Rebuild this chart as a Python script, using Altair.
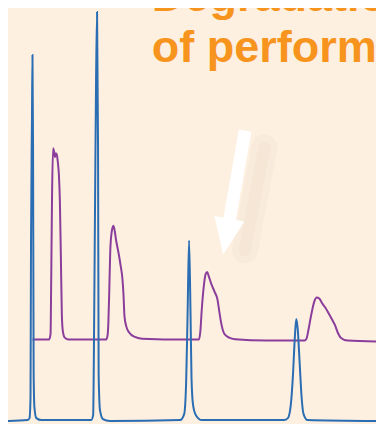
import altair as alt
import pandas as pd

# Retention time (min) and detector signal (mAU)
blue_time = [0.0, 2.0, 2.2, 2.3, 2.35, 2.45, 2.5, 2.56, 2.62, 2.7, 2.9, 3.4,
             8.5, 8.7, 8.8, 8.9, 9.0, 9.1, 9.2, 9.26, 9.4, 9.7, 10.4,
             17.6, 18.0, 18.2, 18.35, 18.5, 18.65, 18.75, 18.9, 19.2, 19.8,
             28.2, 28.6, 28.9, 29.1, 29.3, 29.45, 29.6, 29.8, 30.0, 30.2, 30.6, 37.6]
blue_signal = [0.75, 1.0, 1.5, 6.75, 45.5, 78, 94, 70.5, 13, 4.25, 1.5, 1.0,
               1.0, 2.25, 25.5, 58, 88, 105, 70.5, 13, 3.5, 1.25, 0.75,
               1.0, 2.5, 10.5, 28, 46.75, 28, 11.75, 5, 2.25, 1.0,
               1.0, 1.5, 5, 11.75, 21.75, 26.75, 24.25, 15.5, 6.75, 2.5, 1.0, 0.75]

purple_time = [2.5, 4.2, 4.35, 4.4, 4.5, 4.6, 4.7, 4.8, 4.9, 5.0, 5.1, 5.2, 5.3, 5.4, 5.5, 5.6, 5.8, 6.2,
               10.0, 10.15, 10.25, 10.35, 10.45, 10.6, 10.77, 10.9, 11.05, 11.3, 11.5, 11.7, 11.8, 11.9,
               12.1, 12.4, 12.9, 13.7, 18.2,
               19.5, 19.65, 19.8, 20.0, 20.2, 20.35, 20.5, 20.8, 21.1, 21.4, 21.6, 21.8, 22.1, 22.6, 23.2,
               26.4, 30.3, 30.5, 30.7, 30.9, 31.1, 31.3, 31.55, 31.8, 32.1, 32.4, 32.7, 33.07, 33.4, 33.7,
               34.0, 34.7, 37.6]
purple_signal = [21.5, 21.5, 23, 33, 58, 70.25, 69.5, 68, 69, 68.5, 66.5, 63.5, 56.75, 43, 28, 23.75, 22, 21.5,
                 21.5, 22.25, 25.5, 34.25, 44.25, 49, 50.5, 49.25, 46.75, 43.5, 40.5, 36.75, 33, 27.5,
                 24.75, 23.25, 22.25, 21.75, 21.5,
                 21.5, 23.5, 29.25, 35, 38.25, 38.75, 37.75, 35.5, 33.75, 31.75, 28.5, 25.5, 23, 22, 21.6,
                 21.25, 21.25, 21.75, 24, 26.75, 29.25, 31.25, 32.25, 32, 30.75, 29.75, 28.5, 26.8, 25.25, 23.25,
                 22, 21.25, 21.0]

title_lines = ["Degradation", "of performance"]

# Annotation arrow (data units)
arrow_tail = (24.23, 74.75)
arrow_neck = (22.63, 52.0)
arrow_head = (22.3, 47.75)
shadow_from = (26.2, 70.5)
shadow_to = (24.2, 44.25)

X_DOMAIN = [0, 37.6]
Y_DOMAIN = [0, 106]

xs = alt.Scale(domain=X_DOMAIN, nice=False, zero=False)
ys = alt.Scale(domain=Y_DOMAIN, nice=False, zero=False)

blue_df = pd.DataFrame({"t": blue_time, "s": blue_signal, "i": range(len(blue_time))})
purple_df = pd.DataFrame({"t": purple_time, "s": purple_signal, "i": range(len(purple_time))})
title_df = pd.DataFrame({"text": title_lines, "t": [14.7, 14.7], "s": [105.25, 92.25]})
shaft_df = pd.DataFrame({"t": [arrow_tail[0]], "s": [arrow_tail[1]],
                         "t2": [arrow_neck[0]], "s2": [arrow_neck[1]]})
head_df = pd.DataFrame({"t": [arrow_head[0]], "s": [arrow_head[1]]})
shadow_df = pd.DataFrame({"t": [shadow_from[0]], "s": [shadow_from[1]],
                          "t2": [shadow_to[0]], "s2": [shadow_to[1]]})

X = lambda f: alt.X(f"{f}:Q", scale=xs, axis=None)
Y = lambda f: alt.Y(f"{f}:Q", scale=ys, axis=None)

shadow_wide = alt.Chart(shadow_df).mark_rule(color="#E8D6C0", strokeWidth=26, opacity=0.18,
                                             strokeCap="round").encode(
    x=X("t"), y=Y("s"), x2="t2:Q", y2="s2:Q")
shadow_core = alt.Chart(shadow_df).mark_rule(color="#E8D6C0", strokeWidth=12, opacity=0.22,
                                             strokeCap="round").encode(
    x=X("t"), y=Y("s"), x2="t2:Q", y2="s2:Q")

purple = alt.Chart(purple_df).mark_line(color="#8B3D9C", strokeWidth=2, interpolate="monotone").encode(
    x=X("t"), y=Y("s"), order="i:Q")

blue = alt.Chart(blue_df).mark_line(color="#2A6DB3", strokeWidth=2, interpolate="monotone").encode(
    x=X("t"), y=Y("s"), order="i:Q")

shaft = alt.Chart(shaft_df).mark_rule(color="white", strokeWidth=12.7, strokeCap="butt").encode(
    x=X("t"), y=Y("s"), x2="t2:Q", y2="s2:Q")

head = alt.Chart(head_df).mark_point(shape="M-0.84,-1L0.84,-1L0,1Z", size=1315, angle=10,
                                     filled=True, color="white", opacity=1, strokeWidth=0).encode(
    x=X("t"), y=Y("s"))

title = alt.Chart(title_df).mark_text(align="left", baseline="alphabetic", font="Liberation Sans",
                                      fontWeight="bold", fontSize=45, color="#F7941D").encode(
    x=X("t"), y=Y("s"), text="text:N")

chart = alt.layer(shadow_wide, shadow_core, purple, blue, shaft, head, title).properties(
    width=368, height=416,
    autosize=alt.AutoSizeParams(type="none"),
    padding=0,
    background="#FDF0E1",
).configure_view(stroke=None)

chart.save("out.html", embed_options={"renderer": "svg", "actions": False})
